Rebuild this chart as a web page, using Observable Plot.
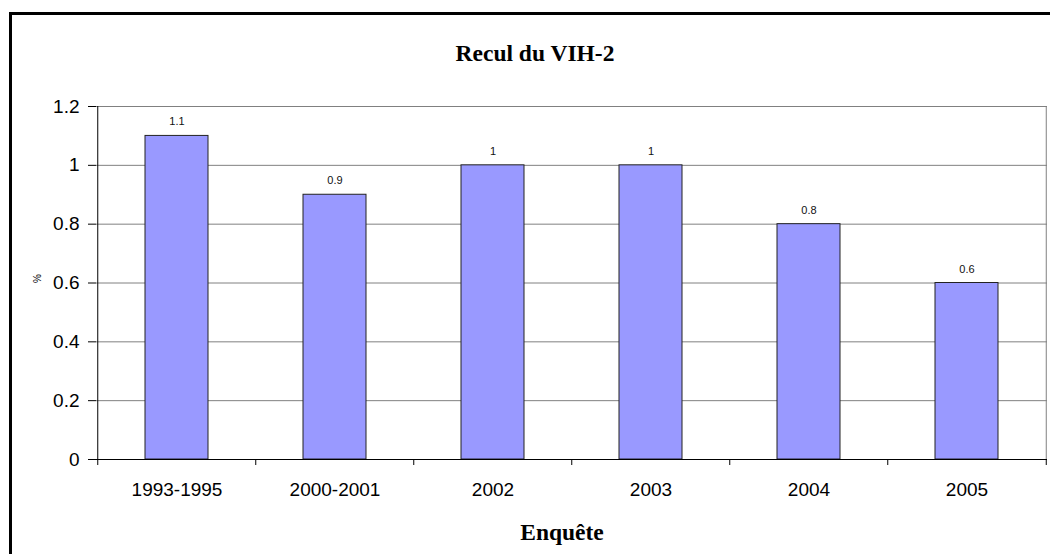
<!DOCTYPE html>
<html><head><meta charset="utf-8">
<script src="https://cdn.jsdelivr.net/npm/d3@7"></script>
<script src="https://cdn.jsdelivr.net/npm/@observablehq/plot@0.6"></script>
<style>
body{margin:0;background:#fff}
#wrap{position:relative;width:1050px;height:554px;overflow:hidden;background:#fff}
#border{position:absolute;left:9px;top:12px;width:1100px;height:700px;border:3px solid #000;box-sizing:border-box}
#title{position:absolute;left:0;width:1070px;top:42px;text-align:center;font:bold 23.5px/1 "Liberation Serif","Times New Roman",serif;color:#000}
#xlabel{position:absolute;left:0;width:1124px;top:521px;text-align:center;font:bold 23.5px/1 "Liberation Serif","Times New Roman",serif;color:#000}
#chart{position:absolute;left:0;top:0}
</style></head>
<body>
<div id="wrap">
  <div id="border"></div>
  <div id="chart"></div>
  <div id="title">Recul du VIH-2</div>
  <div id="xlabel">Enquête</div>
</div>
<script>
const categories = ["1993-1995", "2000-2001", "2002", "2003", "2004", "2005"];
const values = [1.1, 0.9, 1, 1, 0.8, 0.6];
const yTicks = [0, 0.2, 0.4, 0.6, 0.8, 1, 1.2];
const yTickLabels = ["0", "0.2", "0.4", "0.6", "0.8", "1", "1.2"];
const yLabel = "%";

const data = categories.map((c, i) => ({cat: c, v: values[i]}));
const W = 1050, H = 554, mL = 96, mR = 3, mT = 106, mB = 95;
const step = (W - mL - mR) / categories.length;
const last = categories[categories.length - 1];

const chart = Plot.plot({
  width: W, height: H,
  marginLeft: mL, marginRight: mR, marginTop: mT, marginBottom: mB,
  style: {fontFamily: "'Liberation Sans', Arial, sans-serif", background: "transparent", overflow: "visible", color: "#000"},
  x: {domain: categories, paddingInner: 0.6, paddingOuter: 0.3, align: 0.5},
  y: {domain: [0, 1.2]},
  marks: [
    Plot.gridY({ticks: yTicks, stroke: "#808080", strokeOpacity: 1}),
    Plot.ruleX([last], {x: d => d, dx: step / 2, stroke: "#808080"}),
    Plot.barY(data, {x: "cat", y: "v", fill: "#9999ff", stroke: "#222", strokeWidth: 1}),
    Plot.ruleY([0], {stroke: "#000"}),
    Plot.ruleX([categories[0]], {x: d => d, dx: -step / 2, stroke: "#000"}),
    Plot.ruleX(categories, {x: d => d, dx: -step / 2, y1: 0, y2: 0, insetBottom: -6, stroke: "#000"}),
    Plot.ruleX([last], {x: d => d, dx: step / 2, y1: 0, y2: 0, insetBottom: -6, stroke: "#000"}),
    Plot.axisY({ticks: yTicks, tickFormat: d => yTickLabels[yTicks.indexOf(d)], tickSize: 8, tickPadding: 9, fontSize: 19, label: null}),
    Plot.axisX({tickSize: 0, tickPadding: 23, fontSize: 19, label: null}),
    Plot.text(data, {x: "cat", y: "v", text: d => String(d.v), dy: -14, fontSize: 11, fill: "#111"}),
    Plot.text([yLabel], {text: d => d, frameAnchor: "left", dx: -59, rotate: -90, fontSize: 10})
  ]
});
document.getElementById("chart").appendChild(chart);
</script>
</body></html>
